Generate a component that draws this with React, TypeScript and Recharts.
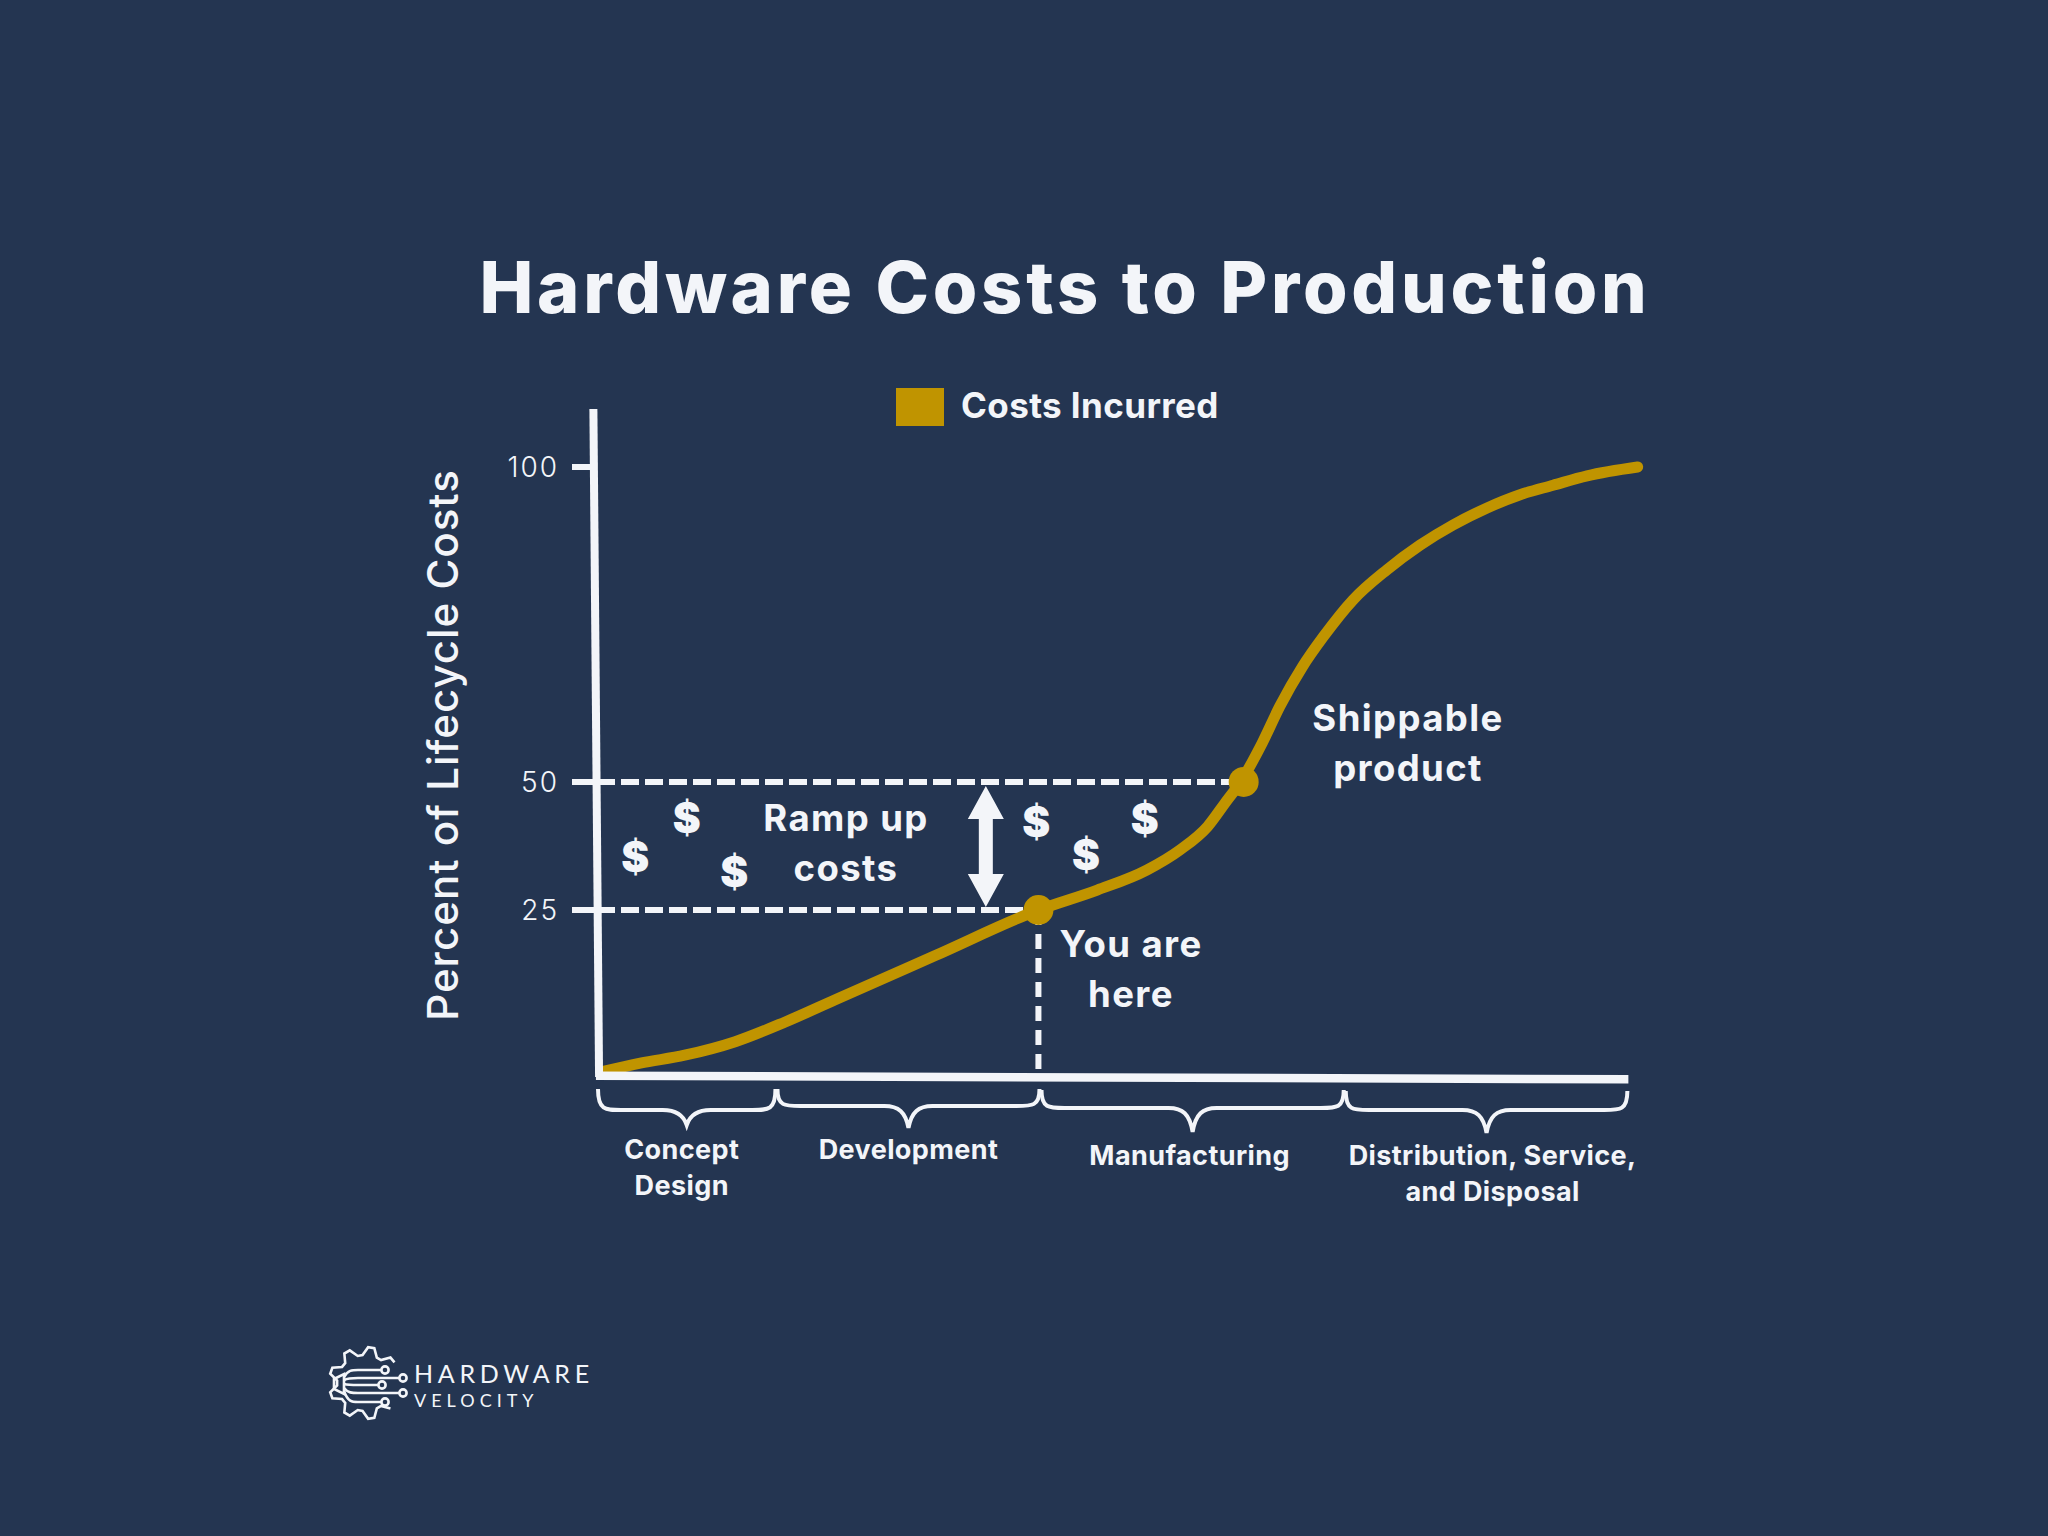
import { Legend, Line, LineChart, ReferenceArea, ReferenceDot, ReferenceLine, XAxis, YAxis } from "recharts";

const NAVY = "#243551";
const GOLD = "#C09400";
const WHITE = "#F3F5F9";
const FONT = "Inter, sans-serif";

// cost curve: x is % of the way along the lifecycle axis
const lifecycle = [0.5, 4.2, 8.5, 13.4, 18.2, 23.1, 32.8, 42.8, 48.5, 53.3, 56.5, 59.2, 60.9, 62.4, 64.5, 66.2, 68.4, 70.4, 73.3, 76.6, 79.8, 83, 86.3, 89.5, 92.7, 96, 100.9];
const costs = [0.5, 1.8, 3, 5.05, 8, 11.4, 18.1, 25, 28.9, 32.8, 36.7, 41.3, 45.9, 50, 56.2, 62, 68.3, 73, 78.9, 83.7, 87.6, 90.8, 93.5, 95.6, 97.1, 98.6, 100];
const curve = lifecycle.map((x, i) => ({ x, cost: costs[i] }));

const yTicks = [25, 50, 100];
// the y axis of the original is not linear, these are where its ticks sit
const yBreaks = [0, 25, 50, 100, 110];
const yBreakFractions = [0, 0.2459, 0.4367, 0.9061, 1];

const phaseEdges = [0, 17.4, 43, 72.5, 100];
const phaseLabels = [["Concept", "Design"], ["Development"], ["Manufacturing"], ["Distribution, Service,", "and Disposal"]];
const phaseBraceY = [[14, 35, 50, 84], [14, 31, 53, 84], [15, 33, 57, 90], [16, 35, 58, 90]];
const phaseLabelShift = [-5, 0, -3, 6];

const youAreHere = { x: 42.8, y: 25 };
const shippable = { x: 62.7, y: 50 };
const dollarX = [3.7, 8.7, 13.3, 42.6, 47.4, 53.1];
const dollarY = [35.4, 43, 32.4, 42.2, 35.7, 42.8];

function pieceScale(range = [1, 0]) {
  let rng = range;
  const scale: any = (v: number) => {
    let i = 0;
    while (i < yBreaks.length - 2 && v > yBreaks[i + 1]) i++;
    const t = (v - yBreaks[i]) / (yBreaks[i + 1] - yBreaks[i]);
    const f = yBreakFractions[i] + t * (yBreakFractions[i + 1] - yBreakFractions[i]);
    return rng[0] + f * (rng[1] - rng[0]);
  };
  scale.domain = (d?: number[]) => (d ? scale : [yBreaks[0], yBreaks[yBreaks.length - 1]]);
  scale.range = (r?: number[]) => {
    if (!r) return rng;
    rng = r;
    return scale;
  };
  scale.copy = () => pieceScale(rng);
  scale.ticks = () => yTicks;
  return scale;
}

function Brace({ x, y, width, index }: any) {
  const [top, mid, tip, lab] = phaseBraceY[index];
  const x2 = x + width;
  const cx = x + width / 2;
  const d = `M${x + 1} ${y + top} C${x + 1} ${y + mid} ${x + 8} ${y + mid} ${x + 24} ${y + mid} L${cx - 24} ${y + mid} C${cx - 10} ${y + mid} ${cx - 3} ${y + mid + 6} ${cx} ${y + tip} C${cx + 3} ${y + mid + 6} ${cx + 10} ${y + mid} ${cx + 24} ${y + mid} L${x2 - 24} ${y + mid} C${x2 - 8} ${y + mid} ${x2 - 1} ${y + mid} ${x2 - 1} ${y + top}`;
  return (
    <g>
      <path d={d} fill="none" stroke={WHITE} strokeWidth={4} />
      {phaseLabels[index].map((line, i) => (
        <text key={line} x={cx + phaseLabelShift[index]} y={y + lab + i * 36} textAnchor="middle" fill={WHITE} fontFamily={FONT} fontWeight={700} fontSize={27} letterSpacing={0.4}>
          {line}
        </text>
      ))}
    </g>
  );
}

function DoubleArrow({ x1, y1, y2 }: any) {
  const top = Math.min(y1, y2);
  const bottom = Math.max(y1, y2);
  const pts = [
    [x1, top], [x1 + 18, top + 33], [x1 + 7, top + 33], [x1 + 7, bottom - 33], [x1 + 18, bottom - 33], [x1, bottom],
    [x1 - 18, bottom - 33], [x1 - 7, bottom - 33], [x1 - 7, top + 33], [x1 - 18, top + 33],
  ];
  return <polygon points={pts.map((p) => p.join(",")).join(" ")} fill={WHITE} />;
}

function Dollar({ cx, cy }: any) {
  return (
    <text x={cx} y={cy + 15} textAnchor="middle" fill={WHITE} fontFamily={FONT} fontWeight={900} fontSize={42}>
      $
    </text>
  );
}

function Note({ x, y, lines }: { x: number; y: number; lines: string[] }) {
  return (
    <text textAnchor="middle" fill={WHITE} fontFamily={FONT} fontWeight={700} fontSize={36.5} letterSpacing={1.4}>
      {lines.map((line, i) => (
        <tspan key={line} x={x} y={y + i * 50}>
          {line}
        </tspan>
      ))}
    </text>
  );
}

function LegendBox({ payload }: any) {
  const entry = payload?.[0];
  if (!entry) return null;
  return (
    <div style={{ display: "flex", alignItems: "center" }}>
      <span style={{ width: 48, height: 38, background: GOLD, marginRight: 17 }} />
      <span style={{ position: "relative", top: -2, color: WHITE, fontFamily: FONT, fontWeight: 700, fontSize: 35, letterSpacing: 0.4, lineHeight: "38px", whiteSpace: "nowrap" }}>{entry.value}</span>
    </div>
  );
}

function Logo() {
  const cx = 365;
  const cy = 1383;
  const teeth: string[] = [];
  for (let i = 0; i <= 28; i++) {
    const a = ((35 + i * 10) * Math.PI) / 180;
    const r = i % 4 < 2 ? 36 : 28;
    teeth.push(`${cx + r * Math.cos(a)},${cy - r * Math.sin(a)}`);
  }
  const leads: [number, number, number][] = [[385, 1370, 1377], [403, 1378, 1380], [382, 1385, 1384], [403, 1393, 1388], [385, 1402, 1391]];
  return (
    <g fill="none" stroke={WHITE} strokeWidth={2.6}>
      <polyline points={teeth.join(" ")} />
      <polygon points="334,1379 344,1374 344,1394 334,1389" />
      {leads.map(([x, y, from]) => (
        <g key={y}>
          <path d={`M344 ${from} C348 ${y} 352 ${y} 358 ${y} L${x - 4} ${y}`} />
          <circle cx={x} cy={y} r={3.6} />
        </g>
      ))}
      <text x={414} y={1383} fill={WHITE} stroke="none" fontFamily="Lato, sans-serif" fontSize={25} letterSpacing={4.7}>
        HARDWARE
      </text>
      <text x={414} y={1407} fill={WHITE} stroke="none" fontFamily="Lato, sans-serif" fontSize={18} letterSpacing={5}>
        VELOCITY
      </text>
    </g>
  );
}

export default function App() {
  return (
    <div style={{ position: "absolute", left: 0, top: 0, width: 2048, height: 1536, background: NAVY }}>
      <LineChart width={2048} height={1536} data={curve} margin={{ top: 404, right: 399, bottom: 461, left: 497 }}>
        <XAxis dataKey="x" type="number" domain={[0, 102]} hide />
        <YAxis
          type="number"
          width={100}
          domain={[0, 110]}
          scale={pieceScale()}
          ticks={yTicks}
          interval={0}
          axisLine={false}
          tickSize={25}
          tickMargin={13}
          tickLine={{ stroke: WHITE, strokeWidth: 6 }}
          tick={{ fill: WHITE, fontFamily: FONT, fontSize: 28, fontWeight: 300, letterSpacing: 2 }}
        />
        <ReferenceLine ifOverflow="visible" segment={[{ x: 0, y: 50 }, shippable]} stroke={WHITE} strokeWidth={6} strokeDasharray="18 6" />
        <ReferenceLine ifOverflow="visible" segment={[{ x: 0, y: 25 }, youAreHere]} stroke={WHITE} strokeWidth={6} strokeDasharray="18 6" />
        <ReferenceLine ifOverflow="visible" segment={[youAreHere, { x: youAreHere.x, y: 0 }]} stroke={WHITE} strokeWidth={6} strokeDasharray="15 9" />
        <ReferenceLine ifOverflow="visible" segment={[{ x: 37.7, y: 49.2 }, { x: 37.7, y: 25.6 }]} shape={DoubleArrow} />
        {phaseLabels.map((_, i) => (
          <ReferenceArea key={i} ifOverflow="visible" x1={phaseEdges[i]} x2={phaseEdges[i + 1]} y1={0} y2={0} shape={(props: any) => <Brace {...props} index={i} />} />
        ))}
        {dollarX.map((x, i) => (
          <ReferenceDot key={x} ifOverflow="visible" x={x} y={dollarY[i]} r={1} shape={Dollar} />
        ))}
        <Line dataKey="cost" name="Costs Incurred" type="monotone" stroke={GOLD} strokeWidth={11} strokeLinecap="round" dot={false} activeDot={false} legendType="rect" isAnimationActive={false} />
        {/* axes lean slightly in the original, so they are segments rather than axis lines; they cover the start of the curve */}
        <ReferenceLine ifOverflow="visible" zIndex={500} segment={[{ x: -0.35, y: 109.2 }, { x: 0.2, y: -0.3 }]} stroke={WHITE} strokeWidth={8} />
        <ReferenceLine ifOverflow="visible" zIndex={500} segment={[{ x: -0.1, y: -0.1 }, { x: 100, y: -0.65 }]} stroke={WHITE} strokeWidth={8.5} />
        <ReferenceDot {...youAreHere} r={15} fill={GOLD} stroke="none" />
        <ReferenceDot {...shippable} r={15} fill={GOLD} stroke="none" />
        <Legend layout="horizontal" align="center" verticalAlign="middle" content={LegendBox} wrapperStyle={{ left: 896, top: 388, width: "auto" }} />

        <text x={1065} y={313} textAnchor="middle" fill={WHITE} fontFamily={FONT} fontWeight={800} fontSize={72} letterSpacing={3.8}>
          Hardware Costs to Production
        </text>
        <text transform="translate(458 745) rotate(-90)" textAnchor="middle" fill={WHITE} fontFamily={FONT} fontWeight={500} fontSize={42} letterSpacing={1}>
          Percent of Lifecycle Costs
        </text>
        <Note x={846} y={831} lines={["Ramp up", "costs"]} />
        <Note x={1408} y={731} lines={["Shippable", "product"]} />
        <Note x={1131} y={957} lines={["You are", "here"]} />
        <Logo />
      </LineChart>
    </div>
  );
}
